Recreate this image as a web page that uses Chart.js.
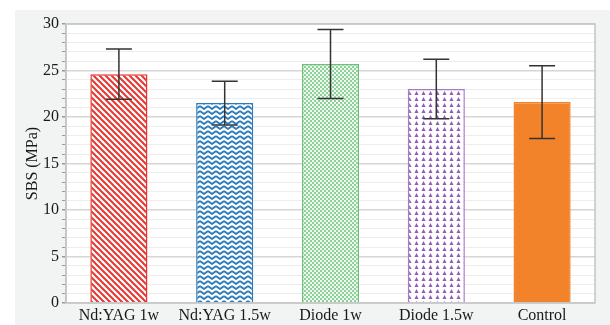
<!DOCTYPE html>
<html>
<head>
<meta charset="utf-8">
<script src="https://cdn.jsdelivr.net/npm/chart.js@4.4.1/dist/chart.umd.min.js"></script>
<style>
  html, body { margin: 0; padding: 0; background: #fff; }
  #wrap { width: 610px; height: 325px; position: relative; }
</style>
</head>
<body>
<div id="wrap"><canvas id="sbsChart" width="610" height="325"></canvas></div>
<script>
const groups = ['Nd:YAG 1w', 'Nd:YAG 1.5w', 'Diode 1w', 'Diode 1.5w', 'Control'];
const sbsMean = [24.6, 21.5, 25.7, 23.0, 21.6];
const sbsSD = [2.7, 2.35, 3.7, 3.2, 3.9];
const yTicks = [0, 5, 10, 15, 20, 25, 30];

function makePattern(w, h, draw) {
  const c = document.createElement('canvas');
  c.width = w; c.height = h;
  const g = c.getContext('2d');
  g.fillStyle = '#fff';
  g.fillRect(0, 0, w, h);
  draw(g);
  return g.createPattern(c, 'repeat');
}

const ctx = document.getElementById('sbsChart').getContext('2d');

// red diagonal stripes
const stripes = makePattern(6, 6, g => {
  g.strokeStyle = '#e8352f';
  g.lineWidth = 2;
  for (let o = -6; o <= 6; o += 6) {
    g.beginPath();
    g.moveTo(o - 1, -1);
    g.lineTo(o + 7, 7);
    g.stroke();
  }
});
// blue zigzag
const zigzag = makePattern(8, 5, g => {
  g.strokeStyle = '#2b7bbb';
  g.lineWidth = 1.8;
  g.beginPath();
  g.moveTo(0, 1);
  g.lineTo(4, 4);
  g.lineTo(8, 1);
  g.stroke();
});
// green checker
const checker = makePattern(4, 4, g => {
  g.fillStyle = '#8fd09a';
  g.fillRect(0, 0, 4, 4);
  g.fillStyle = '#eef8ef';
  g.fillRect(0, 0, 2, 2);
  g.fillRect(2, 2, 2, 2);
});
// purple triangles
const triangles = makePattern(7, 6, g => {
  g.fillStyle = '#8e5bb5';
  g.beginPath();
  g.moveTo(3.5, 1);
  g.lineTo(5.5, 5);
  g.lineTo(1.5, 5);
  g.closePath();
  g.fill();
});

const fills = [stripes, zigzag, checker, triangles, '#f2832b'];
const borders = ['#e8352f', '#2b7bbb', '#6cc177', '#a67cc6', '#f2832b'];

const panelBg = {
  id: 'panelBg',
  beforeDraw(chart) {
    const c = chart.ctx, a = chart.chartArea;
    c.save();
    c.fillStyle = '#f2f3f3';
    c.fillRect(15, 10, chart.width - 15, chart.height - 10);
    c.fillStyle = '#fff';
    c.fillRect(a.left, a.top, a.right - a.left, a.bottom - a.top);
    c.restore();
  },
  afterDraw(chart) {
    const c = chart.ctx, a = chart.chartArea;
    c.save();
    c.strokeStyle = '#c4c4c4';
    c.lineWidth = 1.5;
    c.strokeRect(a.left, a.top, a.right - a.left, a.bottom - a.top);
    c.restore();
  }
};

const errorBars = {
  id: 'errorBars',
  afterDatasetsDraw(chart) {
    const c = chart.ctx;
    const y = chart.scales.y;
    const meta = chart.getDatasetMeta(0);
    c.save();
    c.strokeStyle = '#333';
    c.lineWidth = 1.5;
    meta.data.forEach((bar, i) => {
      const top = y.getPixelForValue(sbsMean[i] + sbsSD[i]);
      const bot = y.getPixelForValue(sbsMean[i] - sbsSD[i]);
      c.beginPath();
      c.moveTo(bar.x, top); c.lineTo(bar.x, bot);
      c.moveTo(bar.x - 13, top); c.lineTo(bar.x + 13, top);
      c.moveTo(bar.x - 13, bot); c.lineTo(bar.x + 13, bot);
      c.stroke();
    });
    c.restore();
  }
};

new Chart(ctx, {
  type: 'bar',
  data: {
    labels: groups,
    datasets: [{
      label: 'SBS',
      data: sbsMean,
      backgroundColor: fills,
      borderColor: borders,
      borderWidth: 1.5,
      barPercentage: 0.54,
      categoryPercentage: 1
    }]
  },
  options: {
    responsive: false,
    animation: false,
    layout: { padding: { top: 24, right: 15, left: 0, bottom: 0 } },
    plugins: { legend: { display: false }, tooltip: { enabled: false } },
    scales: {
      x: {
        afterFit: s => { s.height = 22; },
        grid: { display: false, drawTicks: false },
        border: { display: false },
        ticks: { color: '#1a1a1a', padding: 3, font: { family: 'Liberation Serif', size: 16 } }
      },
      y: {
        min: 0,
        max: 30,
        afterFit: s => { s.width = 66; },
        afterBuildTicks: s => { s.ticks = Array.from({ length: 31 }, (_, v) => ({ value: v })); },
        ticks: {
          autoSkip: false,
          color: '#1a1a1a',
          padding: 3,
          font: { family: 'Liberation Serif', size: 16 },
          callback: v => (yTicks.includes(v) ? v : '')
        },
        grid: {
          color: c => (c.tick && c.tick.value % 5 === 0 ? '#d6d6d6' : '#ededed'),
          lineWidth: c => (c.tick && c.tick.value % 5 === 0 ? 1.5 : 1),
          tickLength: 4,
          tickColor: '#999'
        },
        border: { color: '#c4c4c4', width: 1.5 },
        title: {
          display: true,
          text: 'SBS (MPa)',
          color: '#1a1a1a',
          padding: { top: 23, bottom: 0 },
          font: { family: 'Liberation Serif', size: 16 }
        }
      }
    }
  },
  plugins: [panelBg, errorBars]
});
</script>
</body>
</html>
